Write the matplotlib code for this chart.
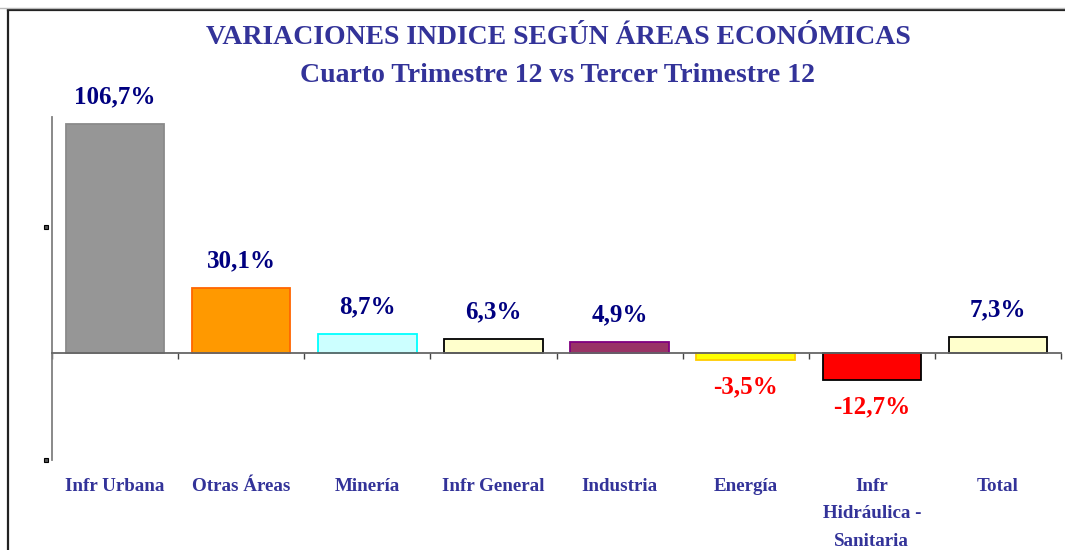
import matplotlib
matplotlib.use("Agg")
import matplotlib.pyplot as plt
import matplotlib.transforms as mtransforms
from matplotlib.lines import Line2D

categories = ["Infr Urbana", "Otras Áreas", "Minería", "Infr General", "Industria",
              "Energía", "Infr\nHidráulica -\nSanitaria", "Total"]
values = [106.7, 30.1, 8.7, 6.3, 4.9, -3.5, -12.7, 7.3]
labels = ["106,7%", "30,1%", "8,7%", "6,3%", "4,9%", "-3,5%", "-12,7%", "7,3%"]
face_colors = ["#969696", "#FF9900", "#CCFFFF", "#FFFFCC", "#993366", "#FFFF00", "#FF0000", "#FFFFCC"]
edge_colors = ["#8A8A8A", "#FF6600", "#00FFFF", "#000000", "#800080", "#FFCC00", "#000000", "#000000"]

title1 = "VARIACIONES INDICE SEGÚN ÁREAS ECONÓMICAS"
title2 = "Cuarto Trimestre 12 vs Tercer Trimestre 12"

W, H = 1065, 550
fig = plt.figure(figsize=(W / 100, H / 100), dpi=100)
plt.rcParams['font.family'] = ['Liberation Serif', 'DejaVu Serif']

ax = fig.add_axes([52 / W, 1 - 460 / H, (1061 - 52) / W, (460 - 117) / H])
x = [i + 0.5 for i in range(len(values))]
ax.bar(x, values, width=0.78, color=face_colors, edgecolor=edge_colors, linewidth=1.3, zorder=2)
ax.set_xlim(0, len(values))
ax.set_ylim(-50, 110)

for s in ["top", "right"]:
    ax.spines[s].set_visible(False)
ax.spines["bottom"].set_position(("data", 0))
ax.spines["bottom"].set_color("#666666")
ax.spines["bottom"].set_linewidth(1.3)
ax.spines["bottom"].set_zorder(3)
ax.spines["left"].set_color("#808080")
ax.spines["left"].set_linewidth(1.3)
ax.set_xticks(range(len(values) + 1))
ax.set_xticklabels([])
ax.tick_params(axis="x", direction="out", length=4.5, width=1, color="#444444")
ax.set_yticks([])

for xi, v, lab in zip(x, values, labels):
    col = "#FF0000" if v < 0 else "#000080"
    off = 19.5 if v >= 0 else -19
    ax.annotate(lab, (xi, v), xytext=(0, off), textcoords="offset points",
                ha="center", va="center", fontsize=18, fontweight="bold", color=col)

trans = mtransforms.blended_transform_factory(ax.transData, fig.transFigure)
for xi, cat in zip(x, categories):
    ax.text(xi, 1 - 478 / H, cat, transform=trans, ha="center", va="top",
            fontsize=13.7, fontweight="bold", color="#333399", linespacing=1.8)

# tick-label squares on the y axis
for yp in [227, 460]:
    ax.plot([45.5 / W], [1 - yp / H], marker="s", markersize=3.5, markerfacecolor="#555555",
            markeredgecolor="#000000", markeredgewidth=0.8, transform=fig.transFigure, clip_on=False)

fig.text(558 / W, 1 - 38 / H, title1, ha="center", va="center", fontsize=20,
         fontweight="bold", color="#333399")
fig.text(558 / W, 1 - 75 / H, title2, ha="center", va="center", fontsize=20,
         fontweight="bold", color="#333399")

# outer frame
fig.add_artist(Line2D([7.5 / W, 7.5 / W], [0, 1 - 10 / H], color="#222222", linewidth=1.6,
                      transform=fig.transFigure))
fig.add_artist(Line2D([7.5 / W, 1], [1 - 10 / H, 1 - 10 / H], color="#222222", linewidth=1.6,
                      transform=fig.transFigure))
fig.add_artist(Line2D([0, 1], [1 - 8 / H, 1 - 8 / H], color="#BBBBBB", linewidth=1.0,
                      transform=fig.transFigure))

fig.savefig("out.png", dpi=100)
